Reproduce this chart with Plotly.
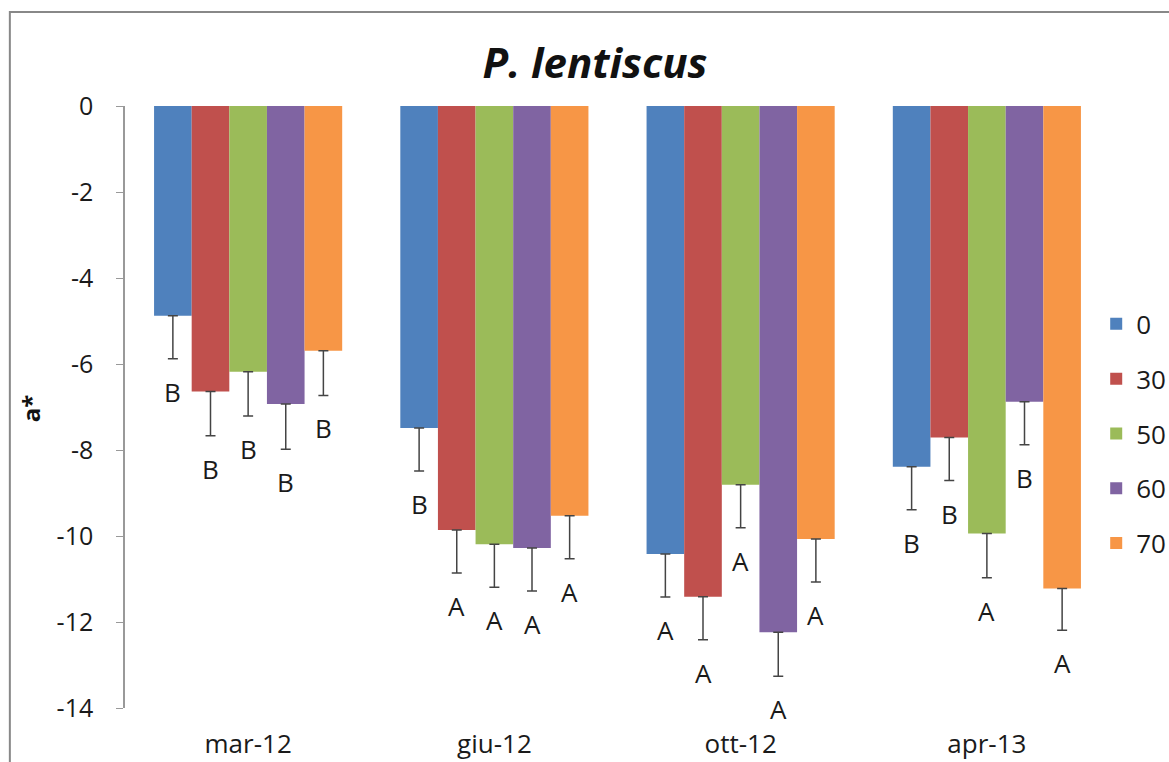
import plotly.graph_objects as go

categories = ["mar-12", "giu-12", "ott-12", "apr-13"]
series_names = ["0", "30", "50", "60", "70"]
values_0 = [-4.88, -7.49, -10.42, -8.39]
values_30 = [-6.64, -9.86, -11.41, -7.71]
values_50 = [-6.18, -10.19, -8.81, -9.94]
values_60 = [-6.93, -10.28, -12.24, -6.88]
values_70 = [-5.69, -9.53, -10.07, -11.22]
err_0 = [1.0, 1.0, 1.0, 1.0]
err_30 = [1.03, 1.0, 1.0, 1.0]
err_50 = [1.03, 1.0, 1.0, 1.03]
err_60 = [1.05, 1.0, 1.02, 1.0]
err_70 = [1.04, 1.0, 1.0, 0.97]
letters_0 = ["B", "B", "A", "B"]
letters_30 = ["B", "A", "A", "B"]
letters_50 = ["B", "A", "A", "A"]
letters_60 = ["B", "A", "A", "B"]
letters_70 = ["B", "A", "A", "A"]
y_tickvals = [0, -2, -4, -6, -8, -10, -12, -14]
y_ticktext = ["0", "-2", "-4", "-6", "-8", "-10", "-12", "-14"]

all_vals = [values_0, values_30, values_50, values_60, values_70]
all_errs = [err_0, err_30, err_50, err_60, err_70]
all_letters = [letters_0, letters_30, letters_50, letters_60, letters_70]
colors = ["#4F81BD", "#C0504D", "#9BBB59", "#8064A2", "#F79646"]

FONT = "'Open Sans', Lato, sans-serif"
bargap = 0.236
nser = len(series_names)
bw = (1 - bargap) / nser

fig = go.Figure()
for i, name in enumerate(series_names):
    fig.add_trace(go.Bar(
        x=categories, y=all_vals[i], name=name,
        marker=dict(color=colors[i], line=dict(width=0)),
        legendgroup=name,
        error_y=dict(type="data", symmetric=False, array=[0] * len(categories),
                     arrayminus=all_errs[i], color="#444", thickness=1.5, width=5),
    ))

annotations = []
for i in range(nser):
    for j in range(len(categories)):
        annotations.append(dict(
            x=j + (i - (nser - 1) / 2) * bw, y=all_vals[i][j] - all_errs[i][j],
            xref="x", yref="y", text=all_letters[i][j], showarrow=False,
            xanchor="center", yanchor="middle",
            yshift=-33, font=dict(family=FONT, size=26, color="#1a1a1a"),
        ))

annotations.append(dict(
    text="<b>a*</b>", xref="paper", yref="paper", x=-0.0965, y=0.498,
    xanchor="center", yanchor="middle",
    textangle=-90, showarrow=False, font=dict(family=FONT, size=24, color="#111"),
))

fig.update_layout(
    width=1169, height=762,
    margin=dict(l=125, r=59, t=106, b=54, autoexpand=False),
    paper_bgcolor="white", plot_bgcolor="white",
    barmode="group", bargap=bargap, bargroupgap=0,
    title=dict(text="<b><i>P. lentiscus</i></b>", x=0.509, xanchor="center",
               y=0.917, yanchor="middle", font=dict(family=FONT, size=42, color="#111")),
    font=dict(family=FONT, size=24, color="#1a1a1a"),
    showlegend=True,
    legend=dict(x=0.986, xanchor="left", y=0.677, yanchor="top",
                font=dict(family=FONT, size=26, color="#1a1a1a"),
                tracegroupgap=18, itemwidth=30, bgcolor="rgba(0,0,0,0)"),
    xaxis=dict(type="category", categoryorder="array", categoryarray=categories,
               range=[-0.5, 3.5], showline=False, ticks="", showgrid=False,
               automargin=False,
               ticklabelstandoff=18, tickfont=dict(family=FONT, size=26, color="#1a1a1a")),
    xaxis2=dict(overlaying="x", side="top", anchor="y", range=[-0.5, 3.5],
                tickmode="array", tickvals=[-0.5, 0.5, 1.5, 2.5, 3.5],
                showticklabels=False, ticks="inside", ticklen=7, tickcolor="#999",
                showline=True, linecolor="#999", linewidth=1.5, showgrid=False,
                zeroline=False, automargin=False),
    yaxis=dict(range=[-14, 0], tickmode="array", tickvals=y_tickvals, ticktext=y_ticktext,
               showgrid=False, zeroline=False, automargin=False,
               showline=True, linecolor="#999", linewidth=1.5,
               ticks="outside", ticklen=7, tickcolor="#999",
               ticklabelstandoff=18,
               tickfont=dict(family=FONT, size=25, color="#1a1a1a")),
    annotations=annotations,
    shapes=[dict(type="rect", xref="paper", yref="paper",
                 x0=-0.1169, x1=1.2, y0=-0.2, y1=1.156,
                 line=dict(color="#888", width=2), fillcolor="rgba(0,0,0,0)",
                 layer="below")],
)

fig.write_html("out.html")
